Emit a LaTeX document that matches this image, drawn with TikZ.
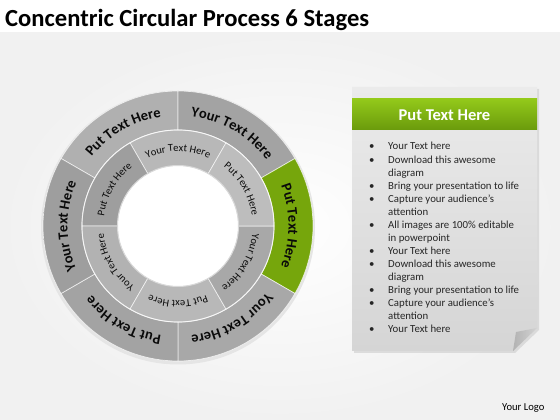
\documentclass[tikz,border=0pt]{standalone}
\usepackage{fontspec}
\setmainfont{Carlito}
\usetikzlibrary{decorations.text}
\definecolor{ringtxt}{HTML}{0A0A0A}
\definecolor{bggray}{HTML}{F1F1F1}
\definecolor{panelTop}{HTML}{EBEBEB}
\definecolor{panelBot}{HTML}{D5D5D5}
\definecolor{greenT}{HTML}{93C91A}
\definecolor{greenB}{HTML}{6A9A0C}
\definecolor{gIn}{HTML}{76A60C}
\definecolor{gOut}{HTML}{9CD01E}
\colorlet{segin}{gray}
\colorlet{segout}{gray}
\pgfdeclareradialshading[segin,segout]{outerband}{\pgfpoint{0bp}{0bp}}{color(0bp)=(segin); color(35.5bp)=(segin); color(50bp)=(segout)}
\pgfdeclareradialshading[segin,segout]{innerband}{\pgfpoint{0bp}{0bp}}{color(0bp)=(segin); color(22bp)=(segin); color(35.6bp)=(segout); color(50bp)=(segout)}
\tikzset{
  segedge/.style={draw=white, line width=0.7pt, draw opacity=0.7},
  bullettxt/.style={anchor=base west, inner sep=0pt, font=\fontsize{10.8}{12}\selectfont, text=black!85},
}
\newcommand\ringseg[7]{%
  \colorlet{segin}{#5}\colorlet{segout}{#6}%
  \begin{scope}
    \clip (#1:#3) arc[start angle=#1,end angle=#2,radius=#3] -- (#2:#4) arc[start angle=#2,end angle=#1,radius=#4] -- cycle;
    \shade[shading=#7] (0,0) circle (135);
  \end{scope}
  \draw[segedge] (#1:#3) arc[start angle=#1,end angle=#2,radius=#3] -- (#2:#4) arc[start angle=#2,end angle=#1,radius=#4] -- cycle;
}
\newcommand\ringtext[6]{%
  \path[decorate,decoration={text along path, text align=center, text color=ringtxt,
     text={|\fontsize{#4}{#4}\selectfont#5|#6}}] (#1:#3) arc[start angle=#1,end angle=#2,radius=#3];
}
\begin{document}
\begin{tikzpicture}[x=1pt,y=1pt]
\useasboundingbox (0,0) rectangle (560,420);
% background
\fill[white] (0,0) rectangle (560,420);
\shade[inner color=white, outer color=bggray] (0,0) rectangle (560,387);
% title
\node[anchor=base west, inner sep=0pt, font=\fontsize{24.6}{28}\selectfont\bfseries] (title) at (5,393) {Concentric Circular Process 6 Stages};
% ring
\begin{scope}[shift={(178,194)}]
  \fill[gray!20] (0,-1.5) circle (137);
  % outer ring
  \ringseg{90}{150}{96}{135}{black!31}{black!20}{outerband}
  \ringseg{30}{90}{96}{135}{black!36}{black!23}{outerband}
  \ringseg{-30}{30}{96}{135}{gIn}{gOut}{outerband}
  \ringseg{-90}{-30}{96}{135}{black!34}{black!20}{outerband}
  \ringseg{-150}{-90}{96}{135}{black!36}{black!18}{outerband}
  \ringseg{150}{210}{96}{135}{black!38}{black!24}{outerband}
  % inner ring
  \ringseg{60}{120}{60}{96}{black!28}{black!18}{innerband}
  \ringseg{120}{180}{60}{96}{black!38}{black!26}{innerband}
  \ringseg{180}{240}{60}{96}{black!30}{black!38}{innerband}
  \ringseg{240}{300}{60}{96}{black!28}{black!20}{innerband}
  \ringseg{300}{360}{60}{96}{black!34}{black!24}{innerband}
  \ringseg{0}{60}{60}{96}{black!26}{black!18}{innerband}
  \draw[white, line width=1pt, opacity=0.6] (0,0) circle (96);
  \fill[white] (0,0) circle (60);
  \draw[white!85!black, line width=1pt] (0,0) circle (60.5);
  % outer texts
  \ringtext{150}{90}{110.5}{14.5}{\bfseries}{Put Text Here}
  \ringtext{90}{30}{110.5}{14.5}{\bfseries}{Your Text Here}
  \ringtext{30}{-30}{110.5}{14.5}{\bfseries}{Put Text Here}
  \ringtext{-30}{-90}{110.5}{14.5}{\bfseries}{Your Text Here}
  \ringtext{-90}{-150}{110.5}{14.5}{\bfseries}{Put Text Here}
  \ringtext{210}{150}{110.5}{14.5}{\bfseries}{Your Text Here}
  % inner texts
  \ringtext{120}{60}{74.6}{10.5}{}{Your Text Here}
  \ringtext{180}{120}{74.6}{10.5}{}{Put Text Here}
  \ringtext{240}{180}{74.6}{10.5}{}{Your Text Here}
  \ringtext{300}{240}{74.6}{10.5}{}{Put Text Here}
  \ringtext{360}{300}{74.6}{10.5}{}{Your Text Here}
  \ringtext{60}{0}{74.6}{10.5}{}{Put Text Here}
\end{scope}
% panel
\fill[gray!40, opacity=0.6] (354,67) -- (515,67) -- (539,90) -- (539,331) -- (354,331) -- cycle;
\shade[top color=panelTop, bottom color=panelBot] (352,69) -- (513,69) -- (537,92) -- (537,333) -- (352,333) -- cycle;
\shade[left color=gray!60, right color=gray!35] (537,92) -- (513,69) -- (516,88) -- cycle;
\shade[top color=greenT, bottom color=greenB] (352,290) rectangle (537,321);
\node[font=\fontsize{16.5}{18}\selectfont\bfseries, text=white] (head) at (444.5,305) {Put Text Here};
% bullets
\foreach \i/\b/\t in {0/1/Your Text here, 1/1/Download this awesome, 2/0/diagram,
  3/1/Bring your presentation to life, 4/1/Capture your audience’s, 5/0/attention,
  6/1/All images are 100\% editable, 7/0/in powerpoint, 8/1/Your Text here,
  9/1/Download this awesome, 10/0/diagram, 11/1/Bring your presentation to life,
  12/1/Capture your audience’s, 13/0/attention, 14/1/Your Text here}{
  \node[bullettxt] (line\i) at (388,{270-13.07*\i}) {\t};
  \ifnum\b=1 \node[bullettxt] (dot\i) at (369,{270-13.07*\i}) {•}; \fi
}
\node[anchor=base west, inner sep=0pt, font=\fontsize{10.6}{12}\selectfont] (logo) at (502,9) {Your Logo};
\end{tikzpicture}
\end{document}
